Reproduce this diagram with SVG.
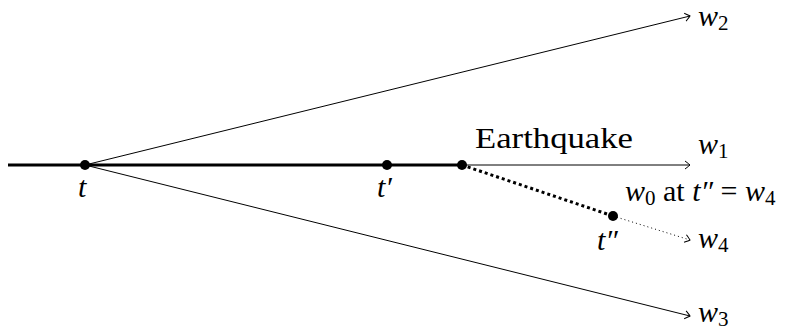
<svg xmlns="http://www.w3.org/2000/svg" width="800" height="332" viewBox="0 0 800 332">
<style>
text{font-family:'Liberation Serif','Times New Roman',serif;font-size:30px;fill:#000}
.m{font-style:italic}
.s{font-size:21px;font-style:normal}
.thin{stroke:#000;stroke-width:1;fill:none}
.thick{stroke:#000;stroke-width:3;fill:none}
</style>
<defs>
<marker id="to" viewBox="-6 -5 8 10" markerWidth="8" markerHeight="10" refX="0" refY="0" orient="auto" markerUnits="userSpaceOnUse">
<path d="M-5,-4 Q-1,-1 0,0 Q-1,1 -5,4" fill="none" stroke="#000" stroke-width="1"/>
</marker>
</defs>
<g id="connectors">
<line class="thick" x1="8" y1="165" x2="462" y2="165"/>
<line class="thin" x1="85" y1="165" x2="690" y2="16" marker-end="url(#to)"/>
<line class="thin" x1="85" y1="165" x2="690" y2="316" marker-end="url(#to)"/>
<line class="thin" x1="462" y1="165" x2="690" y2="165" marker-end="url(#to)"/>
<line class="thick" x1="462" y1="165" x2="613" y2="216" stroke-dasharray="3 3"/>
<line class="thin" x1="613" y1="216" x2="690" y2="240" stroke-dasharray="1 3" marker-end="url(#to)"/>
</g>
<g id="t"><circle cx="85" cy="165" r="5"/><text class="m" x="78" y="197">t</text></g>
<g id="tp"><circle cx="387" cy="165" r="5"/><text class="m" x="377" y="197">t′</text></g>
<g id="eq"><circle cx="462" cy="165" r="5"/><text x="475" y="148" textLength="158" lengthAdjust="spacingAndGlyphs">Earthquake</text></g>
<g id="tpp"><circle cx="613" cy="216" r="5"/><text class="m" x="597" y="250">t″</text></g>
<g id="w2"><text class="m" x="698" y="26">w<tspan class="s" dy="4">2</tspan></text></g>
<g id="w1"><text class="m" x="698" y="154">w<tspan class="s" dy="4">1</tspan></text></g>
<g id="w0"><text x="625" y="201"><tspan class="m">w</tspan><tspan class="s" dy="4">0</tspan><tspan dy="-4"> at </tspan><tspan class="m">t″</tspan> = <tspan class="m">w</tspan><tspan class="s" dy="4">4</tspan></text></g>
<g id="w4"><text class="m" x="698" y="248">w<tspan class="s" dy="4">4</tspan></text></g>
<g id="w3"><text class="m" x="698" y="322">w<tspan class="s" dy="4">3</tspan></text></g>
</svg>
